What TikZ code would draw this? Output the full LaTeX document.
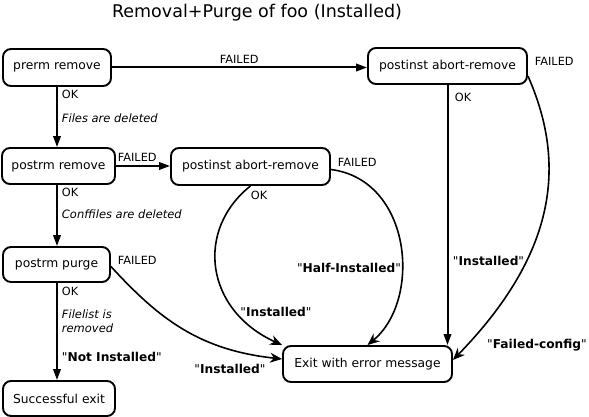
\documentclass[tikz,border=0pt]{standalone}
\usepackage{fontspec}
\setmainfont{DejaVu Sans}[Ligatures=TeXOff]
\usetikzlibrary{arrows.meta}

\newcommand{\qt}[1]{"\textbf{#1}"}

\tikzset{
  state/.style={draw, line width=1.9pt, rounded corners=8pt, inner sep=0pt, font=\fontsize{12.3}{14}\selectfont},
  flow/.style={line width=2pt, -{Triangle[length=11pt,width=7.5pt]}},
  curvedflow/.style={line width=1.6pt, -{Stealth[length=12pt,width=10pt]}},
  lbl/.style={anchor=west, inner sep=0.75pt, font=\fontsize{11.3}{13}\selectfont},
  note/.style={lbl, font=\fontsize{11.5}{14}\selectfont\itshape, align=left},
  status/.style={inner sep=0.75pt, font=\fontsize{12.2}{14}\selectfont}
}

\begin{document}
\begin{tikzpicture}[x=1pt,y=-1pt]
\useasboundingbox (0,0) rectangle (589,417);

% Title
\node (title) at (257,13) {\fontsize{17.5}{20}\selectfont Removal+Purge of foo (Installed)};

%Shape: states
\node [state, minimum width=108pt, minimum height=37pt] (prerm) at (57,67.5) {prerm remove};
\node [state, minimum width=159pt, minimum height=36pt] (abortA) at (447.5,66) {postinst abort-remove};
\node [state, minimum width=113pt, minimum height=36pt] (postrmrm) at (58.5,166) {postrm remove};
\node [state, minimum width=159pt, minimum height=37pt] (abortB) at (250.5,166.5) {postinst abort-remove};
\node [state, minimum width=107pt, minimum height=35pt] (purge) at (56.5,264.5) {postrm purge};
\node [state, minimum width=112pt, minimum height=35pt] (success) at (59,398.5) {Successful exit};
\node [state, minimum width=169pt, minimum height=36pt] (errexit) at (367.5,364) {Exit with error message};

%Straight Lines
\draw [flow] (prerm.east) -- (abortA.west |- prerm.east);
\draw [flow] (prerm.south) -- (prerm.south |- postrmrm.north);
\draw [flow] (postrmrm.east) -- (abortB.west |- postrmrm.east);
\draw [flow] (prerm.south |- postrmrm.south) -- (prerm.south |- purge.north);
\draw [flow] (prerm.south |- purge.south) -- (prerm.south |- success.north);
\draw [flow] (abortA.south) -- (abortA.south |- errexit.north);

%Curves
\draw [curvedflow] ([yshift=-10pt]abortA.east) .. controls (565,160) and (560,250) .. ([yshift=4pt]errexit.east);
\draw [curvedflow] (abortB.south) .. controls (195,230) and (205,310) .. (errexit.north west);
\draw [curvedflow] ([yshift=-3pt]abortB.east) .. controls (412,180) and (422,300) .. (errexit.north);
\draw [curvedflow] ([yshift=-2pt]purge.east) .. controls (160,320) and (200,350) .. ([yshift=5pt]errexit.west);

% Text Node
\node [lbl] (f1) at (219,59) {FAILED};
\node [lbl] (f2) at (117,157) {FAILED};
\node [lbl] (f3) at (337,162) {FAILED};
\node [lbl] (f4) at (117,260) {FAILED};
\node [lbl] (f5) at (534,61) {FAILED};
\node [lbl] (ok1) at (61,94) {OK};
\node [lbl] (ok2) at (61,192) {OK};
\node [lbl] (ok3) at (61,291) {OK};
\node [lbl] (ok4) at (454,97) {OK};
\node [lbl] (ok5) at (250,195) {OK};
\node [note] (n1) at (61,118) {Files are deleted};
\node [note] (n2) at (61,214) {Conffiles are deleted};
\node [note] (n3) at (61,321) {Filelist is\\removed};
\node [status, anchor=west] (s1) at (61,357) {\qt{Not Installed}};
\node [status] (s2) at (230,369) {\qt{Installed}};
\node [status] (s3) at (276,312) {\qt{Installed}};
\node [status] (s4) at (349,268) {\qt{Half-Installed}};
\node [status, anchor=west] (s5) at (452,261) {\qt{Installed}};
\node [status] (s6) at (537,345) {\qt{Failed-config}};

\end{tikzpicture}
\end{document}
